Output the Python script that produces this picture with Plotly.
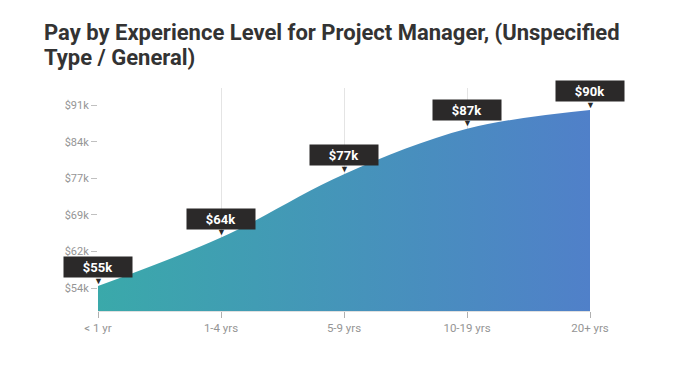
import plotly.graph_objects as go

categories = ["< 1 yr", "1-4 yrs", "5-9 yrs", "10-19 yrs", "20+ yrs"]
pay_k = [54.4, 64.2, 77.0, 86.2, 90.0]
pay_labels = ["$55k", "$64k", "$77k", "$87k", "$90k"]
ytick_vals = [54.0, 61.4, 68.8, 76.2, 83.6, 91.0]
ytick_text = ["$54k", "$62k", "$69k", "$77k", "$84k", "$91k"]
title_lines = ["Pay by Experience Level for Project Manager, (Unspecified",
               "Type / General)"]

xs = list(range(len(categories)))

# figure is offset by the page's 8px body margin
L, R, T, B = 90, 118, 80, 63
W, H = 700, 366
PW, PH = W - L - R, H - T - B

fig = go.Figure()
fig.add_trace(go.Scatter(
    x=xs, y=pay_k, mode="lines",
    line=dict(shape="spline", smoothing=1.0, width=0, color="#4f7fc8"),
    fill="tozeroy",
    fillgradient=dict(type="horizontal",
                      colorscale=[[0, "#3aa9aa"], [1, "#5080c9"]]),
    hoverinfo="skip", showlegend=False,
))

annotations = []
for x, v, lab in zip(xs, pay_k, pay_labels):
    annotations.append(dict(
        x=x, y=v, xref="x", yref="y", text="▼", showarrow=False,
        font=dict(size=9, color="#2b2929"), yshift=6))
    annotations.append(dict(
        x=x, y=v, xref="x", yref="y", text="<b>" + lab + "</b>",
        showarrow=False, bgcolor="#2b2929", borderpad=2,
        width=64, height=16, yanchor="bottom",
        font=dict(family="Roboto", size=13, color="#ffffff"), yshift=8))

for i, line in enumerate(title_lines):
    py = 25 + 24 * i
    annotations.append(dict(
        x=(34 - L) / PW, y=1 + (T - py) / PH, xref="paper", yref="paper",
        xanchor="left", yanchor="middle", showarrow=False,
        text="<b>" + line + "</b>",
        font=dict(family="Roboto", size=22, color="#333333")))

fig.update_layout(
    width=W, height=H,
    margin=dict(l=L, r=R, t=T, b=B),
    paper_bgcolor="white", plot_bgcolor="white",
    xaxis=dict(
        range=[0, 4], tickvals=xs, ticktext=categories,
        showgrid=True, gridcolor="#e4e4e4", gridwidth=1,
        ticks="outside", ticklen=6, tickcolor="#b0b0b0",
        showline=True, linecolor="#e0e0e0",
        tickfont=dict(family="Roboto", size=11.5, color="#959595"),
        zeroline=False, fixedrange=True),
    yaxis=dict(
        range=[49.35, 94.45], tickvals=ytick_vals, ticktext=ytick_text,
        showgrid=False, ticks="outside", ticklen=6, tickcolor="#c0c0c0",
        tickfont=dict(family="Roboto", size=11, color="#959595"),
        zeroline=False, showline=False, fixedrange=True),
    annotations=annotations,
)

fig.write_html("out.html")
